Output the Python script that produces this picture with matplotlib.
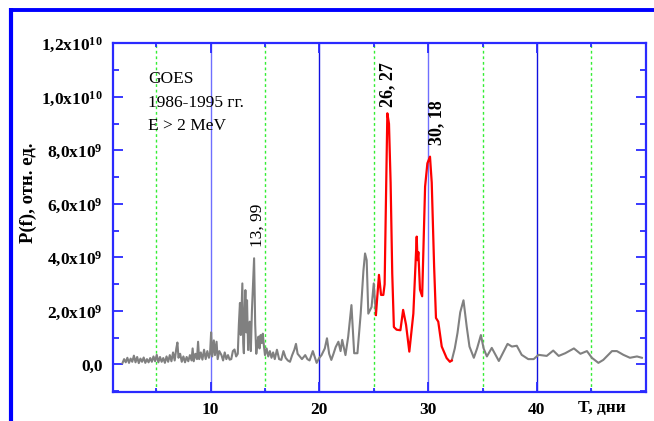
import matplotlib
matplotlib.use("Agg")
import matplotlib.pyplot as plt
from matplotlib.lines import Line2D
from matplotlib.ticker import MultipleLocator, FixedLocator

plt.rcParams['font.family'] = ['Liberation Serif', 'DejaVu Serif']
plt.rcParams['mathtext.fontset'] = 'custom'
plt.rcParams['mathtext.rm'] = 'Liberation Serif'
plt.rcParams['mathtext.bf'] = 'Liberation Serif:bold'
plt.rcParams['mathtext.default'] = 'bf'

# ---- data (period in days, power in units of 1e9) ----
period_gray = [1.90, 2.05, 2.20, 2.35, 2.50, 2.65, 2.80, 2.95, 3.10, 3.25, 3.40, 3.55, 3.70, 3.85,
               4.00, 4.15, 4.30, 4.45, 4.60, 4.75, 4.90, 5.05, 5.20, 5.35, 5.50, 5.65, 5.80, 5.95,
               6.10, 6.25, 6.40, 6.55, 6.70, 6.85, 6.95, 7.05, 7.20, 7.35, 7.50, 7.65, 7.80, 7.95,
               8.10, 8.25, 8.35, 8.45, 8.60, 8.75, 8.85, 8.95, 9.10, 9.25, 9.40, 9.55, 9.70, 9.85,
               9.95, 10.05, 10.15, 10.30, 10.40, 10.55, 10.65, 10.80, 11.00, 11.15, 11.30, 11.45,
               11.60, 11.75, 11.90, 12.05, 12.20, 12.35, 12.50, 12.60, 12.70, 12.78, 12.85, 12.92,
               13.00, 13.06, 13.12, 13.20, 13.28, 13.35, 13.45, 13.52, 13.60, 13.70, 13.80, 13.90,
               14.00, 14.10, 14.20, 14.30, 14.40, 14.50, 14.60, 14.70, 14.80, 14.90, 15.00, 15.15,
               15.30, 15.45, 15.60, 15.75, 15.90, 16.10, 16.30, 16.50, 16.70, 16.90, 17.10, 17.30,
               17.50, 17.70, 17.85, 18.00, 18.20, 18.40, 18.70, 18.90, 19.10, 19.40, 19.75, 20.00,
               20.20, 20.50, 20.70, 20.90, 21.10, 21.30, 21.50, 21.75, 21.95, 22.10, 22.40, 22.65,
               22.95, 23.20, 23.50, 23.80, 24.05, 24.20, 24.35, 24.50, 24.80, 25.00, 25.20,
               None,
               32.17, 32.45, 32.70, 32.95, 33.25, 33.55, 33.80, 34.20, 34.50, 34.85, 35.10, 35.40,
               35.85, 36.50, 37.30, 37.70, 38.15, 38.60, 39.20, 39.70, 40.15, 40.90, 41.50, 42.00,
               42.60, 43.40, 44.00, 44.60, 45.05, 45.65, 46.10, 46.90, 47.35, 47.95, 48.55, 49.20,
               49.65]
power_gray = [0.05, 0.20, 0.08, 0.25, 0.06, 0.22, 0.10, 0.33, 0.08, 0.28, 0.05, 0.22, 0.10, 0.26,
              0.06, 0.20, 0.08, 0.24, 0.10, 0.30, 0.12, 0.36, 0.08, 0.28, 0.10, 0.24, 0.06, 0.30,
              0.10, 0.35, 0.12, 0.45, 0.15, 0.60, 0.82, 0.25, 0.40, 0.10, 0.30, 0.08, 0.28, 0.12,
              0.35, 0.15, 0.60, 0.12, 0.40, 0.20, 0.85, 0.20, 0.45, 0.18, 0.55, 0.20, 0.50, 0.25,
              0.40, 1.20, 0.30, 0.90, 0.35, 0.85, 0.20, 0.50, 0.35, 0.15, 0.45, 0.20,
              0.35, 0.18, 0.20, 0.50, 0.56, 0.30, 0.40, 1.50, 2.30, 1.10, 2.00, 3.03,
              0.80, 0.42, 1.80, 2.78, 1.20, 2.40, 0.54, 1.20, 1.60, 0.50, 2.00, 3.00,
              3.97, 1.50, 0.40, 0.80, 1.04, 0.60, 1.10, 0.80, 1.15, 0.70, 0.35, 0.60,
              0.30, 0.50, 0.25, 0.45, 0.20, 0.55, 0.20, 0.17, 0.50, 0.25, 0.15, 0.10,
              0.35, 0.55, 0.77, 0.40, 0.30, 0.20, 0.35, 0.20, 0.15, 0.50, 0.06, 0.25,
              0.35, 0.60, 0.98, 0.40, 0.17, 0.40, 0.65, 0.85, 0.50, 0.92, 0.35, 1.04,
              2.22, 0.42, 0.42, 1.90, 3.50, 4.15, 3.90, 1.90, 2.15, 3.03, 1.85,
              None,
              0.15, 0.60, 1.18, 1.95, 2.40, 1.40, 0.67, 0.25, 0.60, 1.10, 0.60, 0.30,
              0.62, 0.13, 0.77, 0.67, 0.70, 0.36, 0.20, 0.20, 0.36, 0.32, 0.52, 0.32,
              0.42, 0.60, 0.40, 0.50, 0.25, 0.06, 0.17, 0.50, 0.50, 0.36, 0.25, 0.30,
              0.25]

period_red = [25.20, 25.30, 25.48, 25.67, 25.88, 26.00, 26.12, 26.25, 26.40, 26.55, 26.70, 26.85,
              27.10, 27.45, 27.70, 27.97, 28.27, 28.64, 28.95, 29.02, 29.10, 29.25, 29.45, 29.72,
              29.93, 30.17, 30.33, 30.55, 30.72, 30.93, 31.25, 31.70, 32.00, 32.17]
power_red = [1.85, 2.40, 3.35, 2.60, 2.60, 3.00, 6.10, 9.39, 9.00, 6.80, 3.40, 1.40,
             1.30, 1.28, 2.04, 1.48, 0.48, 1.90, 4.78, 3.90, 4.20, 2.80, 2.55, 6.65,
             7.52, 7.77, 6.80, 3.66, 1.74, 1.60, 0.67, 0.24, 0.10, 0.15]

y_ticks = [0, 2, 4, 6, 8, 10, 12]
y_tick_labels = ["0,0", "2,0x10$^{9}$", "4,0x10$^{9}$", "6,0x10$^{9}$",
                 "8,0x10$^{9}$", "1,0x10$^{10}$", "1,2x10$^{10}$"]
x_ticks = [10, 20, 30, 40]
grid_solid_light = [10, 30]
grid_solid_dark = [20, 40]
grid_dotted = [5, 15, 25, 35, 45]

info_lines = ["GOES", "1986-1995 гг.", "E > 2 MeV"]
peak_labels = ["13, 99", "26, 27", "30, 18"]

# ---- figure ----
fig = plt.figure(figsize=(6.54, 4.21), dpi=100)
ax = fig.add_axes([0.1723, 0.0682, 0.8150, 0.8285])

for x in grid_dotted:
    ax.axvline(x, color='#33ee33', lw=1.0, ls=(0, (2, 2)), zorder=1)
for x in grid_solid_light:
    ax.axvline(x, color='#6f6fff', lw=1.0, zorder=1)
for x in grid_solid_dark:
    ax.axvline(x, color='#1010e0', lw=1.0, zorder=1)

ax.plot(period_gray, power_gray, color='#808080', lw=1.5, zorder=3)
ax.plot(period_red, power_red, color='#ff0000', lw=1.6, zorder=4)

ax.set_xlim(1, 50)
ax.set_ylim(-1.04, 12)

blue = '#2a2aff'
for s in ax.spines.values():
    s.set_color(blue)
    s.set_linewidth(1.6)

ax.xaxis.set_major_locator(FixedLocator(x_ticks))
ax.xaxis.set_minor_locator(FixedLocator(grid_dotted))
ax.yaxis.set_major_locator(FixedLocator(y_ticks))
ax.yaxis.set_minor_locator(MultipleLocator(1))
ax.set_xticklabels([str(v) for v in x_ticks], fontsize=12.5, fontweight='bold')
ax.set_yticklabels(y_tick_labels, fontsize=12.5, fontweight='bold')
ax.tick_params(which='major', direction='in', length=7, width=1.3, color=blue,
               top=True, right=True, pad=7)
ax.tick_params(which='minor', direction='in', length=4, width=1.3, color=blue,
               top=True, right=True)
ax.tick_params(axis='x', which='minor', length=3)

fig.text(28 / 654, 1 - 193 / 421, "P(f), отн. ед.", fontsize=13.5, fontweight='bold',
         rotation=90, ha='center', va='center')

fig.text(602 / 654, 1 - 408 / 421, "T, дни", fontsize=12.5, fontweight='bold',
         ha='center', va='center')

for t, yb in zip(info_lines, [10.51, 9.62, 8.78]):
    ax.text(4.23, yb, t, fontsize=12.5, ha='left', va='baseline', zorder=5)

ax.text(14.35, 5.2, peak_labels[0], rotation=90, fontsize=12.5, ha='center', va='center')
ax.text(26.3, 10.45, peak_labels[1], rotation=90, fontsize=13, fontweight='bold',
        ha='center', va='center')
ax.text(30.8, 9.05, peak_labels[2], rotation=90, fontsize=13, fontweight='bold',
        ha='center', va='center')

# blue frame lines (top and left)
fig.add_artist(Line2D([11.3 / 654, 1.0], [1 - 9.8 / 421, 1 - 9.8 / 421],
                      transform=fig.transFigure, color='#0000ff', lw=2.8,
                      solid_capstyle='butt'))
fig.add_artist(Line2D([11.3 / 654, 11.3 / 654], [0.0, 1 - 8.2 / 421],
                      transform=fig.transFigure, color='#0000ff', lw=3.0,
                      solid_capstyle='butt'))

fig.savefig("out.png", dpi=100)
